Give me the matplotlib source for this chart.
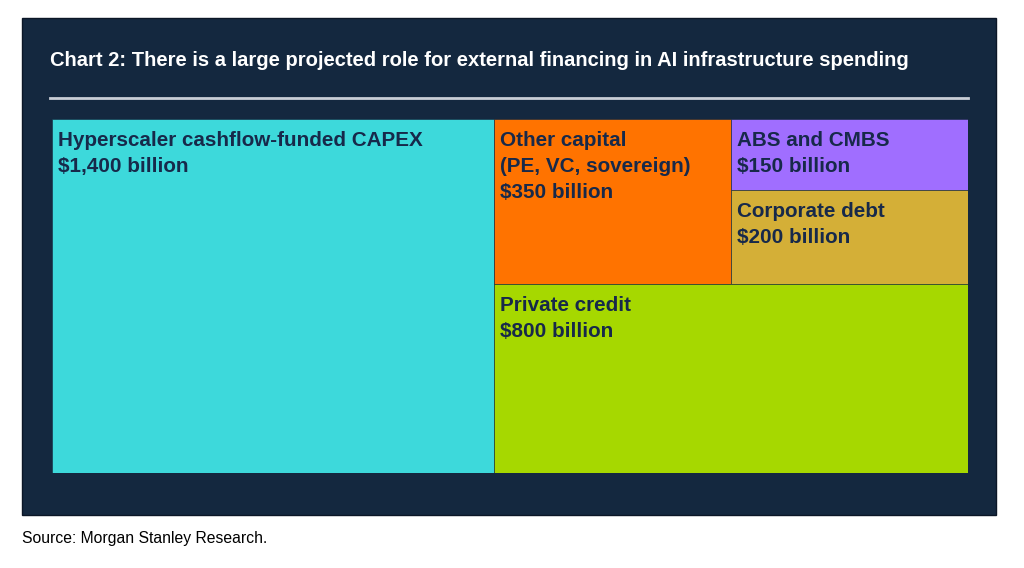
import matplotlib.pyplot as plt
from matplotlib.patches import Rectangle

# values in $ billion
labels = ["Hyperscaler cashflow-funded CAPEX", "Other capital\n(PE, VC, sovereign)",
          "ABS and CMBS", "Corporate debt", "Private credit"]
values = [1400, 350, 150, 200, 800]
colors = ["#3DD9DB", "#FF7300", "#A06EFF", "#D4AF37", "#A6D800"]

NAVY = "#14283F"
TEXT = "#17294A"

plt.rcParams['font.family'] = ['Liberation Sans', 'DejaVu Sans']

fig = plt.figure(figsize=(10.24, 5.68), dpi=100)
W, H = 1024, 568

# dark panel behind everything
fig.patches.append(Rectangle((22 / W, 1 - 515 / H), 974 / W, 497 / H,
                             transform=fig.transFigure, facecolor=NAVY,
                             edgecolor="#0B1626", linewidth=1, zorder=-5))
fig.text(50 / W, 1 - 60 / H,
         "Chart 2: There is a large projected role for external financing in AI infrastructure spending",
         color="white", fontsize=14.5, fontweight="bold", va="center", ha="left")
fig.lines.append(plt.Line2D([50 / W, 968 / W], [1 - 98 / H, 1 - 98 / H],
                            transform=fig.transFigure, color="#C9CED6", linewidth=2))
fig.text(22 / W, 1 - 539 / H, "Source: Morgan Stanley Research.",
         color="black", fontsize=11.3, va="center", ha="left")

ax = fig.add_axes([52 / W, 1 - 473 / H, 916 / W, 354 / H])
ax.set_zorder(5)
ax.set_xlim(0, 1)
ax.set_ylim(1, 0)
ax.axis("off")

# treemap layout: left column, then right column split into top row and bottom
total = sum(values)
hyper, other, abs_, corp, priv = values
rects = []
x_split = hyper / total
rects.append((0, 0, x_split, 1))
right = total - hyper
top = other + abs_ + corp
y_split = top / right
rw = 1 - x_split
ow = rw * other / top
rects.append((x_split, 0, ow, y_split))
ah = y_split * abs_ / (abs_ + corp)
rects.append((x_split + ow, 0, rw - ow, ah))
rects.append((x_split + ow, ah, rw - ow, y_split - ah))
rects.append((x_split, y_split, rw, 1 - y_split))

px = 1 / 916
py = 1 / 354
for (x, y, w, h), lab, val, col in zip(rects, labels, values, colors):
    ax.add_patch(Rectangle((x, y), w, h, facecolor=col, edgecolor=NAVY, linewidth=0.4))
    ax.text(x + 6 * px, y + 12 * py, f"{lab}\n${val:,} billion", color=TEXT,
            fontsize=14.9, fontweight="bold", va="top", ha="left", linespacing=1.45)

fig.savefig("out.png", dpi=100, facecolor="white")
